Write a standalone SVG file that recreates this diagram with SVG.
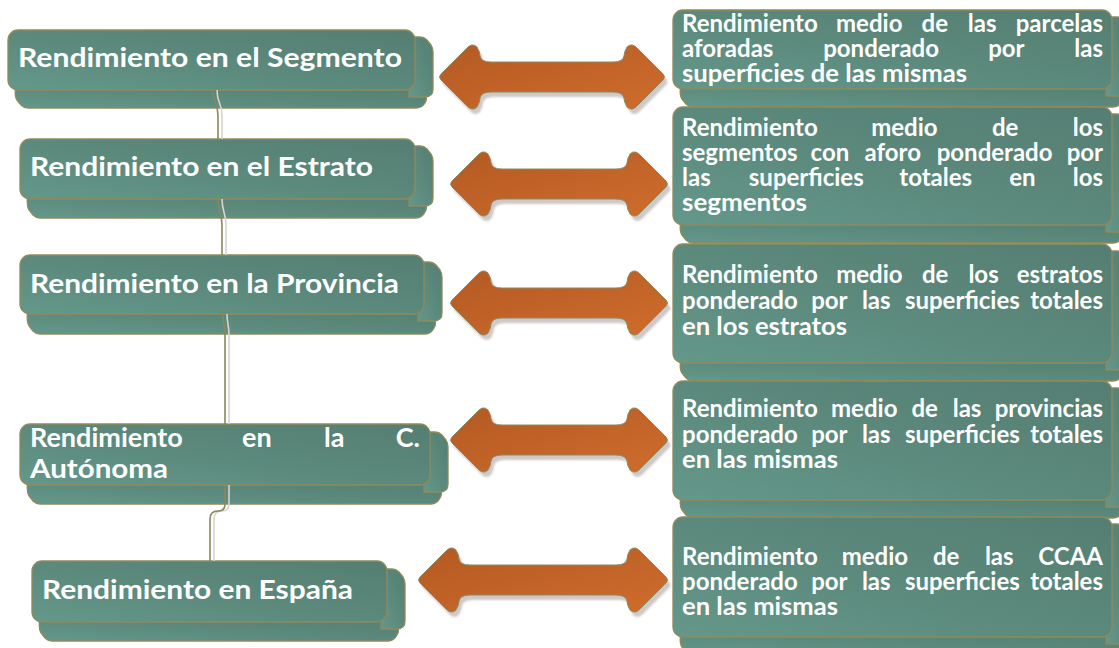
<svg xmlns="http://www.w3.org/2000/svg" xmlns:xlink="http://www.w3.org/1999/xlink" width="1119" height="648" viewBox="0 0 1119 648">
<defs>
<linearGradient id="teal" x1="0" y1="1" x2="1" y2="0">
<stop offset="0" stop-color="#64988a"/>
<stop offset="0.5" stop-color="#5b897c"/>
<stop offset="1" stop-color="#557e72"/>
</linearGradient>
<linearGradient id="orange" x1="0" y1="0" x2="1" y2="1">
<stop offset="0" stop-color="#b45a24"/>
<stop offset="1" stop-color="#cf6c2c"/>
</linearGradient>
<filter id="blur" x="-10%" y="-20%" width="120%" height="140%"><feGaussianBlur stdDeviation="1.2"/></filter>
<path id="arr218" d="M2,-3 L27,-28 Q33,-35 38,-30 Q41,-25 41,-21 Q42,-15 52,-15 H166 Q176,-15 177,-21 Q177,-25 180,-30 Q185,-35 191,-28 L216,-3 Q219,0 216,3 L191,28 Q185,35 180,30 Q177,25 177,21 Q176,15 166,15 H52 Q42,15 41,21 Q41,25 38,30 Q33,35 27,28 L2,3 Q-1,0 2,-3 Z"/>
<path id="arr226" d="M2,-3 L27,-28 Q33,-35 38,-30 Q41,-25 41,-21 Q42,-15 52,-15 H174 Q184,-15 185,-21 Q185,-25 188,-30 Q193,-35 199,-28 L224,-3 Q227,0 224,3 L199,28 Q193,35 188,30 Q185,25 185,21 Q184,15 174,15 H52 Q42,15 41,21 Q41,25 38,30 Q33,35 27,28 L2,3 Q-1,0 2,-3 Z"/>
<path id="arr250" d="M2,-3 L27,-28 Q33,-35 38,-30 Q41,-25 41,-21 Q42,-15 52,-15 H198 Q208,-15 209,-21 Q209,-25 212,-30 Q217,-35 223,-28 L248,-3 Q251,0 248,3 L223,28 Q217,35 212,30 Q209,25 209,21 Q208,15 198,15 H52 Q42,15 41,21 Q41,25 38,30 Q33,35 27,28 L2,3 Q-1,0 2,-3 Z"/>
</defs>
<style>
.box{fill:url(#teal);stroke:#8e8a5c;stroke-width:1.3}
.t{fill:#ffffff;font-family:Lato,"Open Sans","DejaVu Sans",sans-serif;font-weight:700}
.tl{font-size:27px}
.tr{font-size:24px}
.e{text-anchor:end}
.shadow{fill:#cfc8c8;filter:url(#blur)}
.arrow{fill:url(#orange);stroke:#8e8a5c;stroke-width:1}
.link{fill:none;stroke:#8a875a;stroke-width:1.6}
.linkshadow{fill:none;stroke:#d9d3d3;stroke-width:1.6}
</style>
<rect width="1119" height="648" fill="#ffffff"/>

<!-- Left nodes -->
<g id="node-segmento" transform="translate(8,30)">
<path class="box" d="M8,54 H409 L417,63 Q420,68 417,73 Q414,78 408,78 H20 Q16,78 13,75 L9,70 Q6,66 8,54 Z"/>
<path class="box" d="M401,7 H412 Q416,7 419,10 L423,15 Q425,18 425,22 V59 Q425,67 417,67 H401 Z"/>
<rect class="box" x="0" y="0" width="407" height="60" rx="10"/>
<text class="t tl" x="10" y="37" textLength="384" lengthAdjust="spacingAndGlyphs">Rendimiento en el Segmento</text>
</g>

<g id="node-estrato" transform="translate(20,139)">
<path class="box" d="M8,54 H397 L405,63 Q408,68 405,73 Q402,79 396,79 H20 Q16,79 13,76 L9,71 Q6,66 8,54 Z"/>
<path class="box" d="M389,7 H400 Q404,7 407,10 L411,15 Q413,18 413,22 V59 Q413,67 405,67 H389 Z"/>
<rect class="box" x="0" y="0" width="395" height="60" rx="10"/>
<text class="t tl" x="10" y="37" textLength="343" lengthAdjust="spacingAndGlyphs">Rendimiento en el Estrato</text>
</g>

<g id="node-provincia" transform="translate(20,255)">
<path class="box" d="M8,53 H406 L414,62 Q417,68 414,73 Q411,79 405,79 H20 Q16,79 13,76 L9,71 Q6,66 8,53 Z"/>
<path class="box" d="M398,7 H409 Q413,7 416,10 L420,15 Q422,18 422,22 V58 Q422,66 414,66 H398 Z"/>
<rect class="box" x="0" y="0" width="404" height="59" rx="10"/>
<text class="t tl" x="10" y="38" textLength="369" lengthAdjust="spacingAndGlyphs">Rendimiento en la Provincia</text>
</g>

<g id="node-autonoma" transform="translate(20,424)">
<path class="box" d="M8,55 H412 L420,64 Q423,69 420,74 Q417,80 411,80 H20 Q16,80 13,77 L9,72 Q6,67 8,55 Z"/>
<path class="box" d="M404,8 H415 Q419,8 422,11 L426,16 Q428,19 428,23 V60 Q428,68 420,68 H404 Z"/>
<rect class="box" x="0" y="0" width="410" height="61" rx="10"/>
<text class="t tl" y="23"><tspan x="10">Rendimiento </tspan><tspan x="222">en </tspan><tspan x="304">la </tspan><tspan class="e" x="400">C.</tspan></text>
<text class="t tl" x="10" y="54" textLength="138" lengthAdjust="spacingAndGlyphs">Autónoma</text>
</g>

<g id="node-espana" transform="translate(32,561)">
<path class="box" d="M8,55 H357 L365,64 Q368,69 365,74 Q362,80 356,80 H20 Q16,80 13,77 L9,72 Q6,67 8,55 Z"/>
<path class="box" d="M349,8 H360 Q364,8 367,11 L371,16 Q373,19 373,23 V60 Q373,68 365,68 H349 Z"/>
<rect class="box" x="0" y="0" width="355" height="61" rx="10"/>
<text class="t tl" x="10" y="38" textLength="311" lengthAdjust="spacingAndGlyphs">Rendimiento en España</text>
</g>

<!-- Right nodes -->
<g id="node-r1" transform="translate(673,10)">
<path class="box" d="M8,73 H441 L449,82 Q452,87 449,92 Q446,97 440,97 H20 Q16,97 13,94 L9,89 Q6,85 8,73 Z"/>
<path class="box" d="M433,7 H444 Q448,7 451,10 L455,15 Q457,18 457,22 V78 Q457,86 449,86 H433 Z"/>
<rect class="box" x="0" y="0" width="439" height="79" rx="10"/>
<text class="t tr" y="22"><tspan x="9">Rendimiento </tspan><tspan x="163">medio </tspan><tspan x="248.6">de </tspan><tspan x="294.8">las </tspan><tspan class="e" x="430">parcelas</tspan></text>
<text class="t tr" y="47"><tspan x="9">aforadas </tspan><tspan x="150.2">ponderado </tspan><tspan x="315.2">por </tspan><tspan class="e" x="430">las</tspan></text>
<text class="t tr" x="9" y="72" textLength="285" lengthAdjust="spacingAndGlyphs">superficies de las mismas</text>
</g>

<g id="node-r2" transform="translate(673,107)">
<path class="box" d="M8,112 H441 L449,121 Q452,126 449,131 Q446,136 440,136 H20 Q16,136 13,133 L9,128 Q6,124 8,112 Z"/>
<path class="box" d="M433,7 H444 Q448,7 451,10 L455,15 Q457,18 457,22 V117 Q457,125 449,125 H433 Z"/>
<rect class="box" x="0" y="0" width="439" height="118" rx="10"/>
<text class="t tr" y="29"><tspan x="9">Rendimiento </tspan><tspan x="198.2">medio </tspan><tspan x="319">de </tspan><tspan class="e" x="430">los</tspan></text>
<text class="t tr" y="54"><tspan x="9">segmentos </tspan><tspan x="137.6">con </tspan><tspan x="191.5">aforo </tspan><tspan x="263.7">ponderado </tspan><tspan class="e" x="430">por</tspan></text>
<text class="t tr" y="79"><tspan x="9">las </tspan><tspan x="75.8">superficies </tspan><tspan x="226.3">totales </tspan><tspan x="336.3">en </tspan><tspan class="e" x="430">los</tspan></text>
<text class="t tr" x="9" y="104" textLength="125" lengthAdjust="spacingAndGlyphs">segmentos</text>
</g>

<g id="node-r3" transform="translate(673,244)">
<path class="box" d="M8,113 H441 L449,122 Q452,127 449,132 Q446,137 440,137 H20 Q16,137 13,134 L9,129 Q6,125 8,113 Z"/>
<path class="box" d="M433,7 H444 Q448,7 451,10 L455,15 Q457,18 457,22 V118 Q457,126 449,126 H433 Z"/>
<rect class="box" x="0" y="0" width="439" height="119" rx="10"/>
<text class="t tr" y="39"><tspan x="9">Rendimiento </tspan><tspan x="163.2">medio </tspan><tspan x="249">de </tspan><tspan x="295.4">los </tspan><tspan class="e" x="430">estratos</tspan></text>
<text class="t tr" y="65"><tspan x="9">ponderado </tspan><tspan x="138.2">por </tspan><tspan x="188.9">las </tspan><tspan x="231.9">superficies </tspan><tspan class="e" x="430">totales</tspan></text>
<text class="t tr" x="9" y="91" textLength="165" lengthAdjust="spacingAndGlyphs">en los estratos</text>
</g>

<g id="node-r4" transform="translate(673,381)">
<path class="box" d="M8,113 H441 L449,122 Q452,127 449,132 Q446,137 440,137 H20 Q16,137 13,134 L9,129 Q6,125 8,113 Z"/>
<path class="box" d="M433,7 H444 Q448,7 451,10 L455,15 Q457,18 457,22 V118 Q457,126 449,126 H433 Z"/>
<rect class="box" x="0" y="0" width="439" height="119" rx="10"/>
<text class="t tr" y="36"><tspan x="9">Rendimiento </tspan><tspan x="158">medio </tspan><tspan x="238.5">de </tspan><tspan x="279.7">las </tspan><tspan class="e" x="430">provincias</tspan></text>
<text class="t tr" y="62"><tspan x="9">ponderado </tspan><tspan x="138.2">por </tspan><tspan x="188.9">las </tspan><tspan x="231.9">superficies </tspan><tspan class="e" x="430">totales</tspan></text>
<text class="t tr" x="9" y="87" textLength="156" lengthAdjust="spacingAndGlyphs">en las mismas</text>
</g>

<g id="node-r5" transform="translate(673,517)">
<path class="box" d="M8,114 H441 L449,123 Q452,128 449,133 Q446,138 440,138 H20 Q16,138 13,135 L9,130 Q6,126 8,114 Z"/>
<path class="box" d="M433,7 H444 Q448,7 451,10 L455,15 Q457,18 457,22 V119 Q457,127 449,127 H433 Z"/>
<rect class="box" x="0" y="0" width="439" height="120" rx="10"/>
<text class="t tr" y="48"><tspan x="9">Rendimiento </tspan><tspan x="168.7">medio </tspan><tspan x="260">de </tspan><tspan x="311.9">las </tspan><tspan class="e" x="430">CCAA</tspan></text>
<text class="t tr" y="73"><tspan x="9">ponderado </tspan><tspan x="138.2">por </tspan><tspan x="188.9">las </tspan><tspan x="231.9">superficies </tspan><tspan class="e" x="430">totales</tspan></text>
<text class="t tr" x="9" y="98" textLength="156" lengthAdjust="spacingAndGlyphs">en las mismas</text>
</g>

<!-- Connectors -->
<g id="connectors">
<g transform="translate(4,0)">
<path class="linkshadow" d="M213,90 C213,104 218,102 218,116 V139"/>
<path class="linkshadow" d="M218,199 C218,212 222,212 222,226 V255"/>
<path class="linkshadow" d="M223,314 C223,324 225,324 225,336 V424"/>
<path class="linkshadow" d="M225,485 V504 Q225,511 218,511 Q210,511 210,519 V561"/>
</g>
<path class="link" d="M213,90 C213,104 218,102 218,116 V139"/>
<path class="link" d="M218,199 C218,212 222,212 222,226 V255"/>
<path class="link" d="M223,314 C223,324 225,324 225,336 V424"/>
<path class="link" d="M225,485 V504 Q225,511 218,511 Q210,511 210,519 V561"/>

<g id="arrow-1" transform="translate(439,77)">
<use xlink:href="#arr226" class="shadow" transform="translate(3,5)"/>
<use xlink:href="#arr226" class="arrow"/>
</g>
<g id="arrow-2" transform="translate(450,184)">
<use xlink:href="#arr218" class="shadow" transform="translate(3,5)"/>
<use xlink:href="#arr218" class="arrow"/>
</g>
<g id="arrow-3" transform="translate(450,303)">
<use xlink:href="#arr218" class="shadow" transform="translate(3,5)"/>
<use xlink:href="#arr218" class="arrow"/>
</g>
<g id="arrow-4" transform="translate(450,440)">
<use xlink:href="#arr218" class="shadow" transform="translate(3,5)"/>
<use xlink:href="#arr218" class="arrow"/>
</g>
<g id="arrow-5" transform="translate(418,580)">
<use xlink:href="#arr250" class="shadow" transform="translate(3,5)"/>
<use xlink:href="#arr250" class="arrow"/>
</g>
</g>
</svg>
